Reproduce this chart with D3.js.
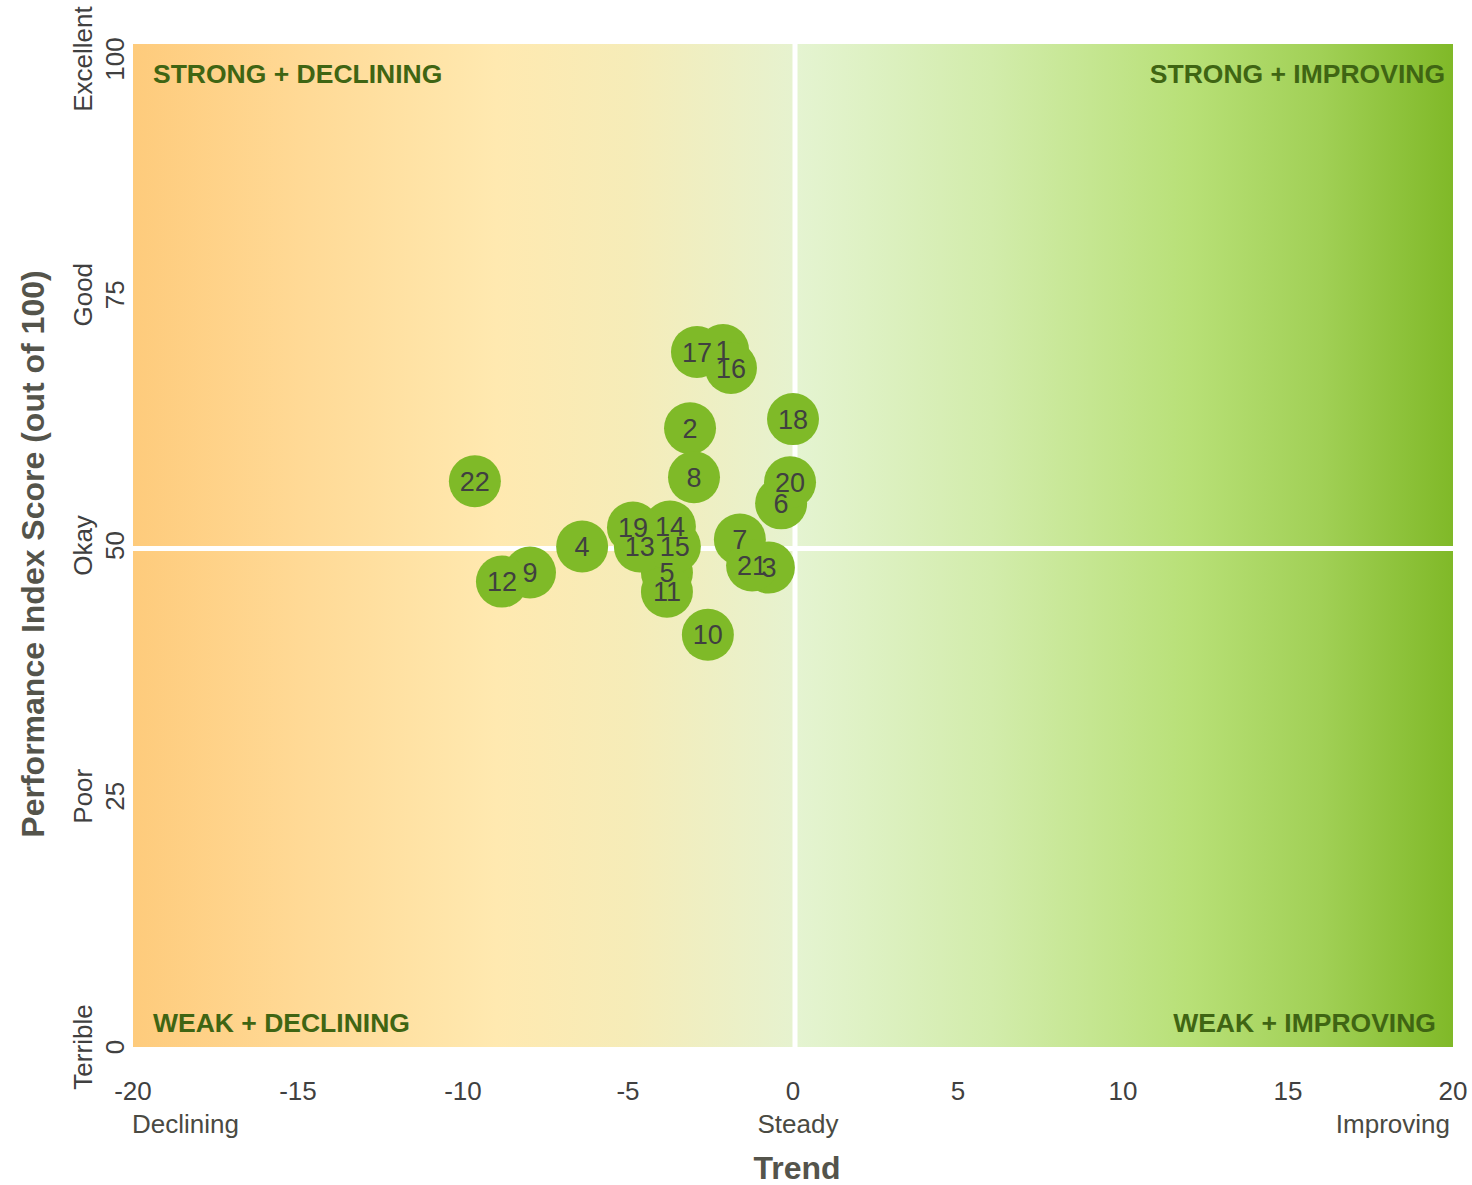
<!DOCTYPE html>
<html>
<head>
<meta charset="utf-8">
<script src="https://cdn.jsdelivr.net/npm/d3@7"></script>
<style>
  html, body { margin: 0; padding: 0; background: #fff; }
  svg { display: block; font-family: "Liberation Sans", Arial, Helvetica, sans-serif; }
</style>
</head>
<body>
<svg id="chart" width="1472" height="1185"></svg>
<script>
// ---- data ----
const ids    = [1, 2, 3, 4, 5, 6, 7, 8, 9, 10, 11, 12, 13, 14, 15, 16, 17, 18, 19, 20, 21, 22];
const trend  = [-2.12, -3.12, -0.73, -6.39, -3.82, -0.36, -1.61, -3.0, -7.97, -2.58, -3.82, -8.82, -4.64, -3.73, -3.58, -1.88, -2.91, 0.0, -4.85, -0.09, -1.24, -9.64];
const score  = [69.5, 61.7, 47.8, 49.9, 47.3, 54.2, 50.6, 56.8, 47.3, 41.1, 45.4, 46.4, 49.9, 51.9, 49.9, 67.7, 69.3, 62.6, 51.8, 56.3, 48.0, 56.4];

const xTicks      = [-20, -15, -10, -5, 0, 5, 10, 15, 20];
const xSubLabels  = [[-20, "Declining", "start"], [0, "Steady", "middle"], [20, "Improving", "end"]];
const yTicks      = [0, 25, 50, 75, 100];
const yTickWords  = ["Terrible", "Poor", "Okay", "Good", "Excellent"];
const quadrants   = [
  ["STRONG + DECLINING", "tl"], ["STRONG + IMPROVING", "tr"],
  ["WEAK + DECLINING", "bl"],   ["WEAK + IMPROVING", "br"]
];
const xTitle = "Trend";
const yTitle = "Performance Index Score (out of 100)";

// ---- layout ----
const L = 133, T = 44, W = 1320, H = 1003;
const svg = d3.select("#chart");
const x = d3.scaleLinear().domain([-20, 20]).range([L, L + W]);
const y = d3.scaleLinear().domain([0, 100]).range([T + H, T]);

const defs = svg.append("defs");
const gl = defs.append("linearGradient").attr("id", "gLeft").attr("x1", "0%").attr("x2", "100%").attr("y1", "0%").attr("y2", "0%");
[[0, "#fecb7c"], [0.25, "#ffd995"], [0.55, "#ffe9b0"], [0.75, "#f6ecb8"], [1, "#e6f2cf"]]
  .forEach(s => gl.append("stop").attr("offset", s[0]).attr("stop-color", s[1]));
const gr = defs.append("linearGradient").attr("id", "gRight").attr("x1", "0%").attr("x2", "100%").attr("y1", "0%").attr("y2", "0%");
[[0, "#e5f4d2"], [0.3, "#d2ecab"], [0.6, "#b8e077"], [0.8, "#a1d056"], [1, "#80b928"]]
  .forEach(s => gr.append("stop").attr("offset", s[0]).attr("stop-color", s[1]));

svg.append("rect").attr("x", x(-20)).attr("y", y(100)).attr("width", x(0) - x(-20)).attr("height", y(0) - y(100)).attr("fill", "url(#gLeft)");
svg.append("rect").attr("x", x(0)).attr("y", y(100)).attr("width", x(20) - x(0)).attr("height", y(0) - y(100)).attr("fill", "url(#gRight)");

// reference lines
svg.append("line").attr("x1", x(0) + 2).attr("x2", x(0) + 2).attr("y1", y(100)).attr("y2", y(0))
  .attr("stroke", "#fff").attr("stroke-width", 5);
svg.append("line").attr("x1", x(-20)).attr("x2", x(20)).attr("y1", y(50) + 3).attr("y2", y(50) + 3)
  .attr("stroke", "#fff").attr("stroke-width", 5);

// quadrant labels
const qg = svg.append("g").attr("font-weight", "bold").attr("font-size", 26.5).attr("fill", "#3f6513");
quadrants.forEach(([txt, pos]) => {
  const left = pos[1] === "l";
  const top = pos[0] === "t";
  qg.append("text")
    .attr("x", left ? x(-20) + 20 : (pos === "tr" ? x(20) - 8 : x(20) - 17))
    .attr("y", top ? y(100) + 39 : y(0) - 15)
    .attr("text-anchor", left ? "start" : "end")
    .text(txt);
});

// points
const pts = ids.map((id, i) => ({ id, tx: trend[i], sc: score[i] }));
svg.append("g").selectAll("circle").data(pts).join("circle")
  .attr("cx", d => x(d.tx)).attr("cy", d => y(d.sc)).attr("r", 26)
  .attr("fill", "#7fba28");
svg.append("g").selectAll("text").data(pts).join("text")
  .attr("x", d => x(d.tx)).attr("y", d => y(d.sc)).attr("dy", "0.36em")
  .attr("text-anchor", "middle").attr("font-size", 27).attr("fill", "#404040")
  .text(d => d.id);

// x axis labels
const xa = svg.append("g").attr("font-size", 26).attr("fill", "#404040");
xa.selectAll("text.tick").data(xTicks).join("text").attr("class", "tick")
  .attr("x", d => x(d)).attr("y", 1100).attr("text-anchor", "middle").text(d => d);
xa.selectAll("text.sub").data(xSubLabels).join("text").attr("class", "sub")
  .attr("x", d => x(d[0]) + (d[2] === "middle" ? 5 : (d[2] === "start" ? -1 : -3)))
  .attr("y", 1133).attr("text-anchor", d => d[2]).attr("fill", "#4a4a42").text(d => d[1]);

// y axis labels (rotated, two lines)
const ya = svg.append("g").attr("font-size", 26).attr("fill", "#404040");
yTicks.forEach((v, i) => {
  let cy = y(v);
  if (v === 100) cy = 59;
  ya.append("text").attr("transform", `translate(${92},${cy}) rotate(-90)`)
    .attr("text-anchor", "middle").text(yTickWords[i]);
  ya.append("text").attr("transform", `translate(${124},${cy}) rotate(-90)`)
    .attr("text-anchor", "middle").text(v);
});

// axis titles
svg.append("text").attr("x", 797).attr("y", 1179).attr("text-anchor", "middle")
  .attr("font-size", 32).attr("font-weight", "bold").attr("fill", "#54544b").text(xTitle);
svg.append("text").attr("transform", "translate(44,554) rotate(-90)").attr("text-anchor", "middle")
  .attr("font-size", 32).attr("font-weight", "bold").attr("fill", "#54544b").text(yTitle);
</script>
</body>
</html>
